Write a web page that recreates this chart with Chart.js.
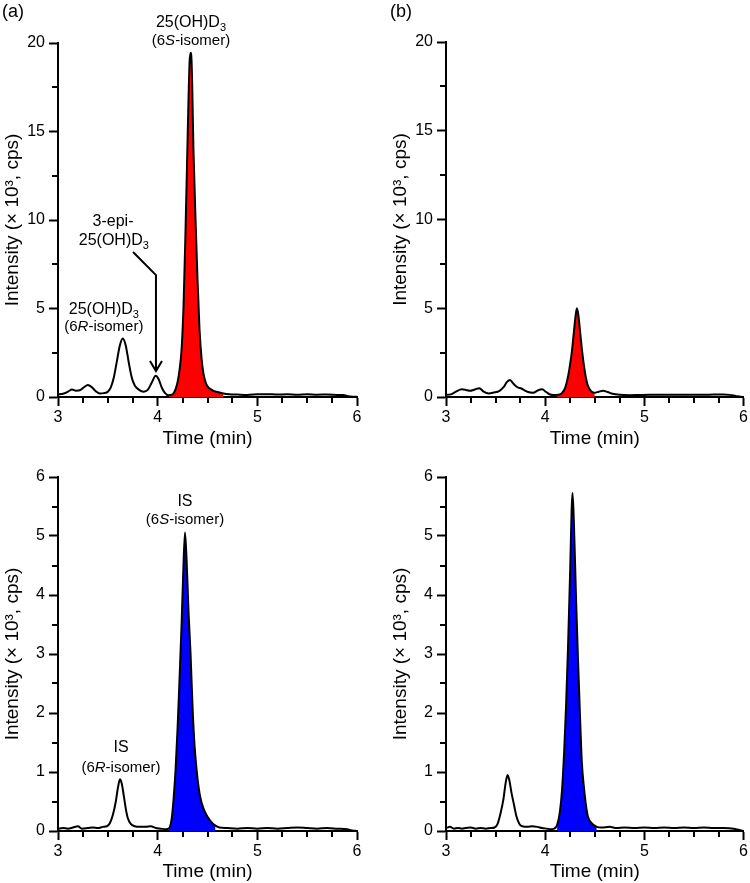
<!DOCTYPE html>
<html>
<head>
<meta charset="utf-8">
<title>25(OH)D3 chromatograms</title>
<script src="https://cdn.jsdelivr.net/npm/chart.js@4.4.1/dist/chart.umd.min.js"></script>
<style>
  html, body { margin: 0; padding: 0; background: #fff; }
  #fig { position: relative; width: 750px; height: 883px; overflow: hidden; }
  canvas { position: absolute; }
  #panel-a1 { left: 0; top: 0; }
  #panel-b1 { left: 375px; top: 0; }
  #panel-a2 { left: 0; top: 450px; }
  #panel-b2 { left: 375px; top: 450px; }
</style>
</head>
<body>
<div id="fig">
  <canvas id="panel-a1" width="375" height="450"></canvas>
  <canvas id="panel-b1" width="375" height="450"></canvas>
  <canvas id="panel-a2" width="375" height="433"></canvas>
  <canvas id="panel-b2" width="375" height="433"></canvas>
</div>
<script>
// ---- data (time in min, intensity in x10^3 cps) ----

// (a) top: 25(OH)D3 transition
const timeA1 = [3.00, 3.05, 3.10, 3.14, 3.18, 3.22, 3.26, 3.30, 3.34, 3.38, 3.42, 3.46, 3.50, 3.53, 3.56, 3.59, 3.62, 3.65, 3.68, 3.71, 3.74, 3.77, 3.81, 3.86, 3.90, 3.94, 3.98, 4.01, 4.04, 4.07, 4.11, 4.15, 4.18, 4.20, 4.22, 4.24, 4.26, 4.28, 4.30, 4.32, 4.33, 4.34, 4.36, 4.38, 4.40, 4.42, 4.44, 4.46, 4.48, 4.50, 4.55, 4.60, 4.66, 4.72, 4.80, 4.90, 5.00, 5.10, 5.20, 5.30, 5.40, 5.50, 5.60, 5.70, 5.80, 5.86, 5.90, 5.95, 6.00];
const intensityA1 = [0.15, 0.18, 0.30, 0.42, 0.36, 0.38, 0.55, 0.68, 0.55, 0.32, 0.20, 0.22, 0.30, 0.55, 1.10, 2.00, 2.90, 3.30, 2.90, 1.95, 1.10, 0.65, 0.42, 0.30, 0.40, 0.80, 1.20, 1.00, 0.55, 0.25, 0.10, 0.15, 0.45, 0.85, 1.55, 2.70, 5.20, 9.50, 14.5, 18.9, 19.45, 19.0, 13.8, 10.0, 6.6, 3.8, 2.2, 1.3, 0.85, 0.60, 0.38, 0.28, 0.20, 0.16, 0.14, 0.12, 0.15, 0.16, 0.14, 0.15, 0.13, 0.15, 0.13, 0.14, 0.12, 0.11, 0.06, 0.02, 0.02];
const peakWindowA1 = [4.11, 4.66];

// (b) top: 25(OH)D3 transition
const timeB1 = [3.00, 3.05, 3.10, 3.16, 3.20, 3.24, 3.29, 3.335, 3.38, 3.43, 3.48, 3.54, 3.58, 3.615, 3.645, 3.68, 3.72, 3.76, 3.80, 3.85, 3.88, 3.93, 3.97, 4.01, 4.05, 4.08, 4.12, 4.165, 4.20, 4.23, 4.25, 4.27, 4.29, 4.305, 4.32, 4.335, 4.35, 4.37, 4.39, 4.41, 4.43, 4.46, 4.50, 4.54, 4.585, 4.63, 4.68, 4.75, 4.85, 4.95, 5.05, 5.20, 5.35, 5.50, 5.65, 5.80, 5.86, 5.92, 5.97, 6.00];
const intensityB1 = [0.12, 0.15, 0.30, 0.43, 0.40, 0.35, 0.42, 0.50, 0.30, 0.20, 0.25, 0.35, 0.55, 0.85, 0.96, 0.75, 0.55, 0.48, 0.35, 0.25, 0.24, 0.38, 0.43, 0.28, 0.14, 0.11, 0.12, 0.20, 0.50, 1.15, 1.80, 2.60, 3.70, 4.50, 5.00, 4.60, 3.80, 2.70, 1.80, 1.10, 0.65, 0.35, 0.24, 0.30, 0.35, 0.28, 0.18, 0.12, 0.10, 0.11, 0.12, 0.12, 0.13, 0.12, 0.13, 0.14, 0.12, 0.06, 0.01, 0.00];
const peakWindowB1 = [4.12, 4.50];

// (a) bottom: internal standard transition
const timeA2 = [3.00, 3.05, 3.10, 3.15, 3.20, 3.24, 3.30, 3.35, 3.40, 3.45, 3.49, 3.52, 3.55, 3.58, 3.60, 3.622, 3.64, 3.66, 3.68, 3.70, 3.73, 3.77, 3.82, 3.88, 3.93, 3.98, 4.03, 4.08, 4.11, 4.14, 4.16, 4.18, 4.20, 4.22, 4.24, 4.255, 4.274, 4.29, 4.31, 4.33, 4.35, 4.37, 4.39, 4.41, 4.43, 4.46, 4.50, 4.54, 4.58, 4.62, 4.70, 4.80, 4.90, 5.00, 5.10, 5.20, 5.30, 5.40, 5.50, 5.60, 5.70, 5.80, 5.90, 5.95, 6.00];
const intensityA2 = [0.04, 0.05, 0.04, 0.06, 0.08, 0.04, 0.05, 0.06, 0.05, 0.07, 0.08, 0.13, 0.27, 0.50, 0.72, 0.876, 0.80, 0.60, 0.38, 0.22, 0.12, 0.08, 0.07, 0.07, 0.08, 0.05, 0.04, 0.03, 0.04, 0.20, 0.55, 1.05, 1.75, 2.60, 3.50, 4.30, 5.06, 4.60, 3.70, 3.00, 2.10, 1.45, 1.05, 0.75, 0.55, 0.38, 0.24, 0.15, 0.09, 0.06, 0.05, 0.04, 0.05, 0.04, 0.05, 0.04, 0.05, 0.06, 0.05, 0.04, 0.05, 0.04, 0.03, 0.01, 0.00];
const peakWindowA2 = [4.11, 4.58];

// (b) bottom: internal standard transition
const timeB2 = [3.00, 3.04, 3.08, 3.12, 3.16, 3.20, 3.25, 3.30, 3.35, 3.40, 3.45, 3.49, 3.52, 3.55, 3.58, 3.60, 3.621, 3.64, 3.66, 3.685, 3.71, 3.74, 3.77, 3.82, 3.87, 3.92, 3.97, 4.02, 4.05, 4.09, 4.12, 4.15, 4.17, 4.19, 4.21, 4.23, 4.25, 4.276, 4.29, 4.31, 4.33, 4.35, 4.37, 4.39, 4.41, 4.43, 4.46, 4.49, 4.52, 4.57, 4.65, 4.72, 4.80, 4.90, 5.00, 5.10, 5.20, 5.30, 5.40, 5.50, 5.60, 5.70, 5.80, 5.90, 5.95, 6.00];
const intensityB2 = [0.05, 0.07, 0.04, 0.05, 0.04, 0.05, 0.06, 0.04, 0.05, 0.04, 0.05, 0.06, 0.12, 0.30, 0.55, 0.80, 0.95, 0.85, 0.65, 0.45, 0.25, 0.12, 0.08, 0.07, 0.08, 0.07, 0.05, 0.04, 0.03, 0.04, 0.10, 0.35, 0.70, 1.30, 2.10, 3.10, 4.30, 5.73, 5.20, 4.00, 2.95, 2.00, 1.15, 0.75, 0.45, 0.25, 0.15, 0.10, 0.07, 0.06, 0.07, 0.05, 0.06, 0.05, 0.06, 0.05, 0.06, 0.05, 0.06, 0.05, 0.06, 0.05, 0.05, 0.04, 0.02, 0.00];
const peakWindowB2 = [4.11, 4.52];

// tick values
const xTicks = [3, 4, 5, 6];
const xMinorTicks = [3.25, 3.5, 3.75, 4.25, 4.5, 4.75, 5.25, 5.5, 5.75];
const yTicksTop = [0, 5, 10, 15, 20];
const yMinorTop = [2.5, 7.5, 12.5, 17.5];
const yTicksBottom = [0, 1, 2, 3, 4, 5, 6];
const yMinorBottom = [0.5, 1.5, 2.5, 3.5, 4.5, 5.5];

const FONT = "'Liberation Sans', Arial, Helvetica, sans-serif";
const RED = 'rgb(255, 0, 0)';
const BLUE = 'rgb(0, 0, 255)';

// draw short minor ticks on both axes
const minorTicks = {
  id: 'minorTicks',
  afterDraw(chart, args, opts) {
    const ctx = chart.ctx;
    const { x, y } = chart.scales;
    ctx.save();
    ctx.strokeStyle = '#000';
    ctx.lineWidth = 2;
    ctx.beginPath();
    opts.x.forEach(v => {
      const px = Math.round(x.getPixelForValue(v));
      ctx.moveTo(px, x.top);
      ctx.lineTo(px, x.top + opts.len);
    });
    opts.y.forEach(v => {
      const py = Math.round(y.getPixelForValue(v));
      ctx.moveTo(y.right, py);
      ctx.lineTo(y.right - opts.len, py);
    });
    ctx.stroke();
    ctx.restore();
  }
};

// text with subscript / italic parts, centred on (cx, cy)
function drawRich(ctx, parts, cx, cy, size) {
  const fontFor = p => (p.italic ? 'italic ' : '') + (p.sub ? Math.round(size * 0.68) : size) + 'px ' + FONT;
  let total = 0;
  parts.forEach(p => { ctx.font = fontFor(p); total += ctx.measureText(p.t).width; });
  let cur = cx - total / 2;
  ctx.textAlign = 'left';
  ctx.textBaseline = 'middle';
  parts.forEach(p => {
    ctx.font = fontFor(p);
    ctx.fillText(p.t, cur, p.sub ? cy + size * 0.32 : cy);
    cur += ctx.measureText(p.t).width;
  });
}

// peak labels, arrow and panel letter
const annotate = {
  id: 'annotate',
  afterDraw(chart, args, opts) {
    const ctx = chart.ctx;
    const { x, y } = chart.scales;
    ctx.save();
    ctx.fillStyle = '#000';
    (opts.labels || []).forEach(lab => {
      drawRich(ctx, lab.parts, x.getPixelForValue(lab.x), y.getPixelForValue(lab.y), lab.size || 16);
    });
    (opts.arrows || []).forEach(path => {
      const pts = path.map(p => [x.getPixelForValue(p[0]), y.getPixelForValue(p[1])]);
      ctx.strokeStyle = '#000';
      ctx.lineWidth = 2;
      ctx.beginPath();
      pts.forEach((p, i) => (i ? ctx.lineTo(p[0], p[1]) : ctx.moveTo(p[0], p[1])));
      const tip = pts[pts.length - 1];
      ctx.moveTo(tip[0] - 6, tip[1] - 10);
      ctx.lineTo(tip[0], tip[1]);
      ctx.lineTo(tip[0] + 6, tip[1] - 10);
      ctx.stroke();
    });
    if (opts.panel) {
      ctx.font = '18px ' + FONT;
      ctx.textAlign = 'left';
      ctx.textBaseline = 'middle';
      ctx.fillText(opts.panel.text, opts.panel.x, opts.panel.y);
    }
    ctx.restore();
  }
};

function makePanel(id, cfg) {
  const pts = cfg.times.map((t, i) => ({ x: t, y: cfg.values[i] }));
  const peak = pts.filter(p => p.x >= cfg.window[0] && p.x <= cfg.window[1]);

  return new Chart(document.getElementById(id), {
    type: 'line',
    data: {
      datasets: [
        {
          data: pts,
          borderColor: '#000',
          borderWidth: 2,
          pointRadius: 0,
          fill: false,
          cubicInterpolationMode: 'monotone',
          order: 1,
        },
        {
          data: peak,
          borderWidth: 0,
          borderColor: 'rgba(0,0,0,0)',
          backgroundColor: cfg.fillColor,
          pointRadius: 0,
          fill: 'origin',
          cubicInterpolationMode: 'monotone',
          order: 2,
        },
      ],
    },
    options: {
      responsive: false,
      animation: false,
      events: [],
      layout: { padding: cfg.padding },
      plugins: {
        legend: { display: false },
        tooltip: { enabled: false },
        minorTicks: { x: xMinorTicks, y: cfg.yMinor, len: 6 },
        annotate: { labels: cfg.labels, arrows: cfg.arrows, panel: cfg.panel },
      },
      scales: {
        x: {
          type: 'linear',
          min: 3,
          max: 6,
          afterBuildTicks: s => { s.ticks = xTicks.map(v => ({ value: v })); },
          afterFit: s => { s.height = cfg.xHeight; },
          ticks: { autoSkip: false, maxRotation: 0, padding: 2, color: '#000', font: { family: FONT, size: 16 } },
          grid: { drawOnChartArea: false, tickLength: 9, tickWidth: 2, tickColor: '#000' },
          border: { width: 2, color: '#000' },
          title: { display: true, text: 'Time (min)', color: '#000', padding: { top: 0, bottom: 0 }, font: { family: FONT, size: 19 } },
        },
        y: {
          type: 'linear',
          min: 0,
          max: cfg.yMax,
          afterBuildTicks: s => { s.ticks = cfg.yTicks.map(v => ({ value: v })); },
          afterFit: s => { s.width = 58; },
          ticks: { autoSkip: false, padding: 4, color: '#000', font: { family: FONT, size: 16 } },
          grid: { drawOnChartArea: false, tickLength: 9, tickWidth: 2, tickColor: '#000' },
          border: { width: 2, color: '#000' },
          title: { display: true, text: 'Intensity (× 10³, cps)', color: '#000', padding: { top: 1, bottom: 0 }, font: { family: FONT, size: 19 } },
        },
      },
    },
    plugins: [minorTicks, annotate],
  });
}

const D3 = [{ t: '25(OH)D' }, { t: '3', sub: true }];

makePanel('panel-a1', {
  times: timeA1, values: intensityA1, window: peakWindowA1, fillColor: RED,
  yMax: 20, yTicks: yTicksTop, yMinor: yMinorTop,
  padding: { left: 0, top: 43, right: 18, bottom: 0 }, xHeight: 53,
  panel: { text: '(a)', x: 2, y: 12 },
  labels: [
    { x: 4.334, y: 21.13, parts: D3 },
    { x: 4.334, y: 20.1, parts: [{ t: '(6' }, { t: 'S', italic: true }, { t: '-isomer)' }], size: 15 },
    { x: 3.552, y: 9.89, parts: [{ t: '3-epi-' }] },
    { x: 3.56, y: 8.81, parts: D3 },
    { x: 3.46, y: 4.92, parts: D3 },
    { x: 3.46, y: 3.95, parts: [{ t: '(6' }, { t: 'R', italic: true }, { t: '-isomer)' }], size: 15 },
  ],
  arrows: [[[3.753, 8.19], [3.983, 6.89], [3.983, 1.47]]],
});

makePanel('panel-b1', {
  times: timeB1, values: intensityB1, window: peakWindowB1, fillColor: RED,
  yMax: 20, yTicks: yTicksTop, yMinor: yMinorTop,
  padding: { left: 13, top: 42, right: 6, bottom: 0 }, xHeight: 53,
  panel: { text: '(b)', x: 15, y: 12 },
  labels: [],
  arrows: [],
});

makePanel('panel-a2', {
  times: timeA2, values: intensityA2, window: peakWindowA2, fillColor: BLUE,
  yMax: 6, yTicks: yTicksBottom, yMinor: yMinorBottom,
  padding: { left: 0, top: 27, right: 18, bottom: 0 }, xHeight: 52,
  labels: [
    { x: 4.274, y: 5.58, parts: [{ t: 'IS' }] },
    { x: 4.274, y: 5.27, parts: [{ t: '(6' }, { t: 'S', italic: true }, { t: '-isomer)' }], size: 15 },
    { x: 3.632, y: 1.41, parts: [{ t: 'IS' }] },
    { x: 3.632, y: 1.07, parts: [{ t: '(6' }, { t: 'R', italic: true }, { t: '-isomer)' }], size: 15 },
  ],
  arrows: [],
});

makePanel('panel-b2', {
  times: timeB2, values: intensityB2, window: peakWindowB2, fillColor: BLUE,
  yMax: 6, yTicks: yTicksBottom, yMinor: yMinorBottom,
  padding: { left: 13, top: 27, right: 6, bottom: 0 }, xHeight: 52,
  labels: [],
  arrows: [],
});
</script>
</body>
</html>
